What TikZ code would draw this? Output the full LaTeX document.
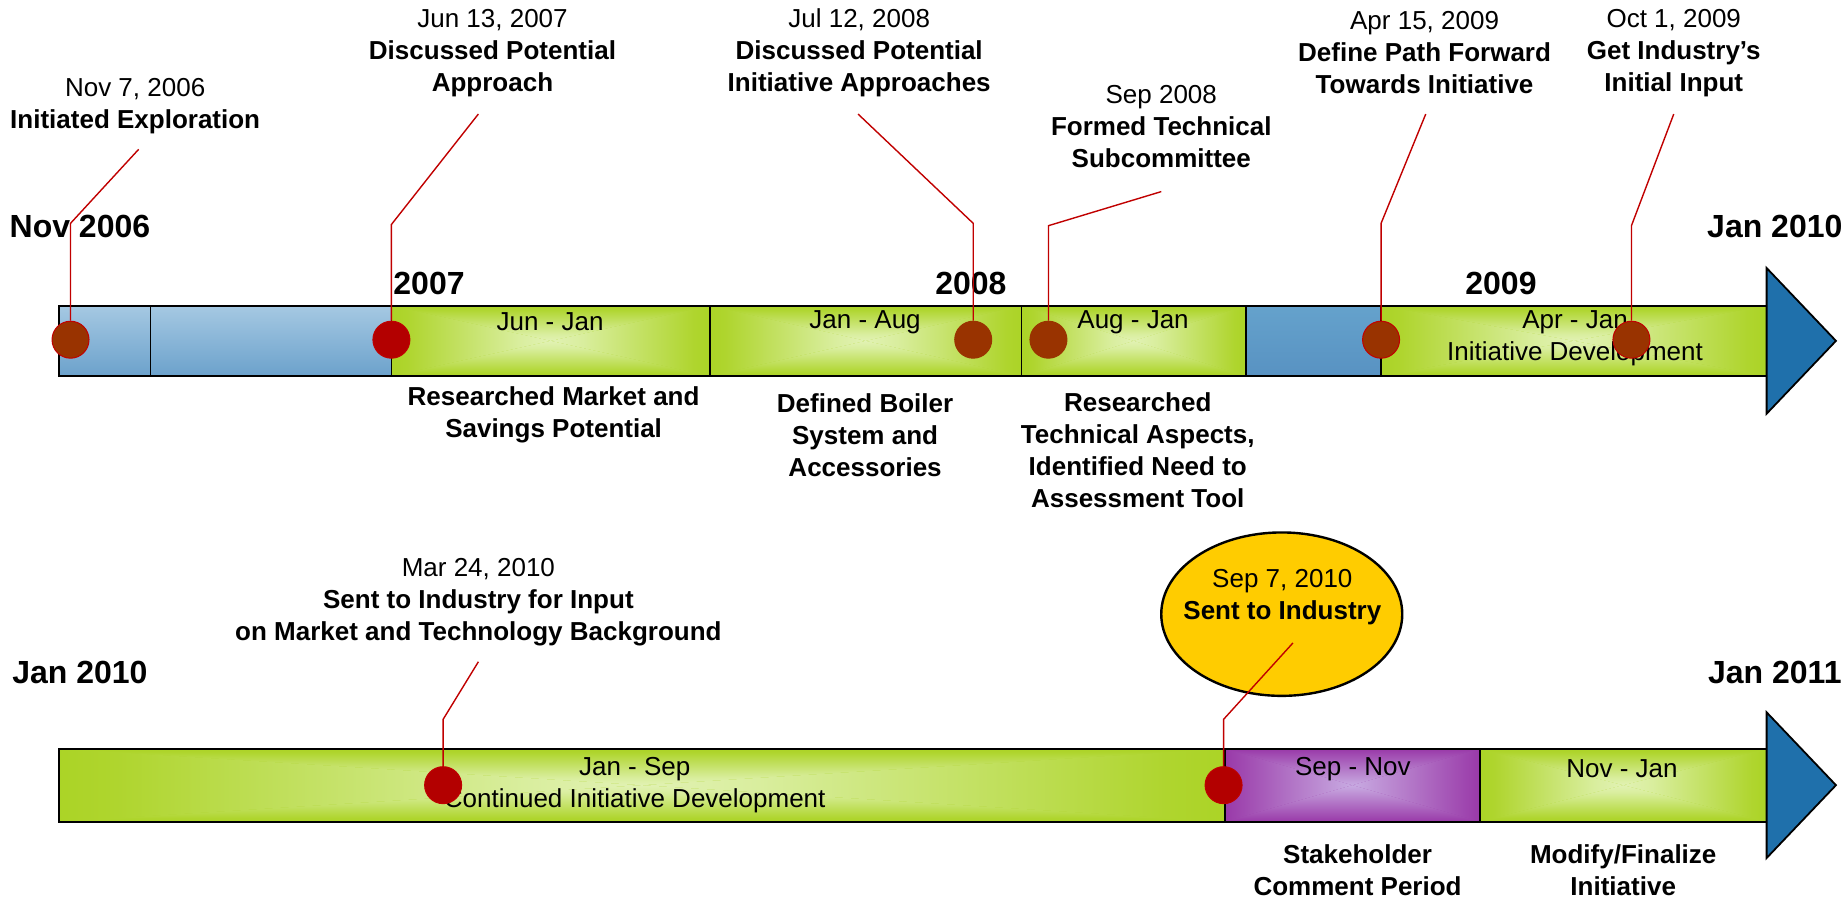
\documentclass[tikz,border=0pt]{standalone}
\usepackage{fontspec}
\setmainfont{Liberation Sans}
\usetikzlibrary{shapes.geometric}

\definecolor{leadRed}{HTML}{C00000}
\definecolor{dotRed}{HTML}{B30000}
\definecolor{dotBrown}{HTML}{993300}
\definecolor{barGreen}{HTML}{99CC00}
\definecolor{limeGreen}{HTML}{AFD52E}
\definecolor{paleGreen}{HTML}{D9EE9E}
\definecolor{glowGreen}{HTML}{F6FBEA}
\definecolor{skyTop}{HTML}{C2DCEE}
\definecolor{skyBot}{HTML}{4F8EC0}
\definecolor{steelTop}{HTML}{65A2CC}
\definecolor{steelBot}{HTML}{5892C2}
\definecolor{arrowBlue}{HTML}{1F70AB}
\definecolor{plum}{HTML}{800080}
\definecolor{deepPurple}{HTML}{9C40AC}
\definecolor{midPurple}{HTML}{BF94D6}
\definecolor{glowPurple}{HTML}{DDE4FF}
\definecolor{sunYellow}{HTML}{FFCC00}
\colorlet{greenbase}{limeGreen}
\colorlet{purplebase}{deepPurple}

% glow ramps: centre -> edge
\pgfdeclareverticalshading{greenv}{100bp}{color(0bp)=(glowGreen); color(35bp)=(paleGreen); color(70bp)=(limeGreen); color(100bp)=(barGreen)}
\pgfdeclarehorizontalshading{greenh}{100bp}{color(0bp)=(barGreen); color(30bp)=(limeGreen); color(65bp)=(paleGreen); color(100bp)=(glowGreen)}
\pgfdeclareverticalshading{purplev}{100bp}{color(0bp)=(glowPurple); color(35bp)=(midPurple); color(72bp)=(deepPurple); color(100bp)=(plum)}
\pgfdeclarehorizontalshading{purpleh}{100bp}{color(0bp)=(plum); color(28bp)=(deepPurple); color(65bp)=(midPurple); color(100bp)=(glowPurple)}
\pgfdeclareverticalshading{skyv}{100bp}{color(0bp)=(skyBot); color(100bp)=(skyTop)}

\tikzset{segline/.style = {draw=black,line width=0.9pt}}
\tikzset{blueseg/.style = {segline,shade,shading=skyv}}
\tikzset{steelseg/.style = {segline,top color=steelTop,bottom color=steelBot}}
\tikzset{arrowtip/.style = {draw=black,line width=0.9pt,fill=arrowBlue}}
\tikzset{spanlabel/.style = {font=\fontsize{13}{16}\selectfont,align=center}}
\tikzset{eventlabel/.style = {font=\fontsize{13}{16}\selectfont,align=center}}
\tikzset{tasklabel/.style = {font=\bfseries\fontsize{13}{16}\selectfont,align=center}}
\tikzset{yearlabel/.style = {font=\bfseries\fontsize{16}{19}\selectfont}}
\tikzset{milestone/.style = {shape=circle,draw=leadRed,line width=0.5pt,minimum size=18.5pt,inner sep=0pt}}
\tikzset{reddot/.style = {milestone,fill=dotRed}}
\tikzset{browndot/.style = {milestone,fill=dotBrown}}
\tikzset{leader/.style = {draw=leadRed,line width=0.7pt}}
\tikzset{callout/.style = {shape=ellipse,draw=black,line width=1.2pt,fill=sunYellow,minimum width=120.5pt,minimum height=81.7pt,inner sep=0pt}}

% rectangle with a glow from its centre: x1 y1 x2 y2 ramp
\newcommand{\glowbox}[5]{%
  \coordinate (gc) at ({(#1+#3)/2},{(#2+#4)/2});
  \fill[#5base] (#1,#2) rectangle (#3,#4);
  \shade[shading=#5v] (#1,#2) -- (#3,#2) -- (gc) -- cycle;
  \shade[shading=#5v,shading angle=180] (#1,#4) -- (#3,#4) -- (gc) -- cycle;
  \shade[shading=#5h] (#1,#2) -- (#1,#4) -- (gc) -- cycle;
  \shade[shading=#5h,shading angle=180] (#3,#2) -- (#3,#4) -- (gc) -- cycle;
  \draw[segline] (#1,#2) rectangle (#3,#4);
}

\begin{document}
\begin{tikzpicture}[x=58.77pt,y=-58.77pt]
            \useasboundingbox (0,0) rectangle (15.68,7.64);

            % Top bar
            \draw[blueseg] (0.50,2.60) rectangle (1.28,3.20);
            \draw[blueseg] (1.28,2.60) rectangle (3.33,3.20);
            \glowbox{3.33}{2.60}{6.04}{3.20}{green}
            \glowbox{6.04}{2.60}{8.69}{3.20}{green}
            \glowbox{8.69}{2.60}{10.60}{3.20}{green}
            \draw[steelseg] (10.60,2.60) rectangle (11.75,3.20);
            \glowbox{11.75}{2.60}{15.03}{3.20}{green}
            \draw[arrowtip] (15.03,2.28) -- (15.62,2.90) -- (15.03,3.52) -- cycle;

            \node[spanlabel] (jun07) at (4.68,2.74) {Jun - Jan};
            \node[spanlabel] (jan08) at (7.36,2.74) {Jan - Aug};
            \node[spanlabel] (aug08) at (9.64,2.74) {Aug - Jan};
            \node[spanlabel] (apr09) at (13.40,2.88) {Apr - Jan\\Initiative Development};

            % Bottom bar
            \glowbox{0.50}{6.37}{10.42}{6.99}{green}
            \glowbox{10.42}{6.37}{12.59}{6.99}{purple}
            \glowbox{12.59}{6.37}{15.03}{6.99}{green}
            \draw[arrowtip] (15.03,6.06) -- (15.62,6.68) -- (15.03,7.30) -- cycle;

            \node[spanlabel] (jan10) at (5.40,6.68) {Jan - Sep\\Continued Initiative Development};
            \node[spanlabel] (sep10) at (11.51,6.54) {Sep - Nov};
            \node[spanlabel] (nov10) at (13.80,6.54) {Nov - Jan};

            % Years
            \node[yearlabel] (nov06) at (0.68,1.93) {Nov 2006};
            \node[yearlabel] (y07) at (3.65,2.41) {2007};
            \node[yearlabel] (y08) at (8.26,2.41) {2008};
            \node[yearlabel] (y09) at (12.77,2.41) {2009};
            \node[yearlabel] (endtop) at (15.10,1.93) {Jan 2010};
            \node[yearlabel] (startbot) at (0.68,5.72) {Jan 2010};
            \node[yearlabel] (endbot) at (15.10,5.72) {Jan 2011};

            % Events
            \node[eventlabel] (ev1) at (1.15,0.90) {Nov 7, 2006\\\textbf{Initiated Exploration}};
            \node[eventlabel] (ev2) at (4.19,0.45) {Jun 13, 2007\\\textbf{Discussed Potential}\\\textbf{Approach}};
            \node[eventlabel] (ev3) at (7.31,0.45) {Jul 12, 2008\\\textbf{Discussed Potential}\\\textbf{Initiative Approaches}};
            \node[eventlabel] (ev4) at (9.88,1.08) {Sep 2008\\\textbf{Formed Technical}\\\textbf{Subcommittee}};
            \node[eventlabel] (ev5) at (12.12,0.45) {Apr 15, 2009\\\textbf{Define Path Forward}\\\textbf{Towards Initiative}};
            \node[eventlabel] (ev6) at (14.24,0.45) {Oct 1, 2009\\\textbf{Get Industry’s}\\\textbf{Initial Input}};
            \node[eventlabel] (ev7) at (4.07,5.12) {Mar 24, 2010\\\textbf{Sent to Industry for Input}\\\textbf{on Market and Technology Background}};
            \node[callout] (bubble) at (10.905,5.225) {};
            \node[eventlabel] (ev8) at (10.91,5.08) {Sep 7, 2010\\\textbf{Sent to Industry}};

            % Tasks
            \node[tasklabel] (task1) at (4.71,3.53) {Researched Market and\\Savings Potential};
            \node[tasklabel] (task2) at (7.36,3.70) {Defined Boiler\\System and\\Accessories};
            \node[tasklabel] (task3) at (9.68,3.83) {Researched\\Technical Aspects,\\Identified Need to\\Assessment Tool};
            \node[tasklabel] (task4) at (11.55,7.40) {Stakeholder\\Comment Period};
            \node[tasklabel] (task5) at (13.81,7.40) {Modify/Finalize\\Initiative};

            % Milestones
            \node[browndot] (m1) at (0.60,2.89) {};
            \node[reddot] (m2) at (3.33,2.89) {};
            \node[browndot,draw=dotBrown] (m3) at (8.28,2.89) {};
            \node[browndot,draw=dotBrown] (m4) at (8.92,2.89) {};
            \node[browndot] (m5) at (11.75,2.89) {};
            \node[browndot] (m6) at (13.88,2.89) {};
            \node[reddot] (m7) at (3.77,6.68) {};
            \node[reddot] (m8) at (10.41,6.68) {};

            % Leaders
            \coordinate (k1) at (0.60,1.90);
            \coordinate (e1) at (1.18,1.27);
            \coordinate (k2) at (3.33,1.91);
            \coordinate (e2) at (4.07,0.97);
            \coordinate (k3) at (8.28,1.90);
            \coordinate (e3) at (7.30,0.97);
            \coordinate (k4) at (8.92,1.92);
            \coordinate (e4) at (9.88,1.63);
            \coordinate (k5) at (11.75,1.90);
            \coordinate (e5) at (12.13,0.97);
            \coordinate (k6) at (13.88,1.92);
            \coordinate (e6) at (14.24,0.97);
            \coordinate (k7) at (3.77,6.12);
            \coordinate (e7) at (4.07,5.63);
            \coordinate (k8) at (10.41,6.12);
            \coordinate (e8) at (11.00,5.47);

            \draw[leader] (m1) -- (k1) -- (e1);
            \draw[leader] (m2) -- (k2) -- (e2);
            \draw[leader] (m3) -- (k3) -- (e3);
            \draw[leader] (m4) -- (k4) -- (e4);
            \draw[leader] (m5) -- (k5) -- (e5);
            \draw[leader] (m6) -- (k6) -- (e6);
            \draw[leader] (m7) -- (k7) -- (e7);
            \draw[leader] (m8) -- (k8) -- (e8);

        \end{tikzpicture}
\end{document}
